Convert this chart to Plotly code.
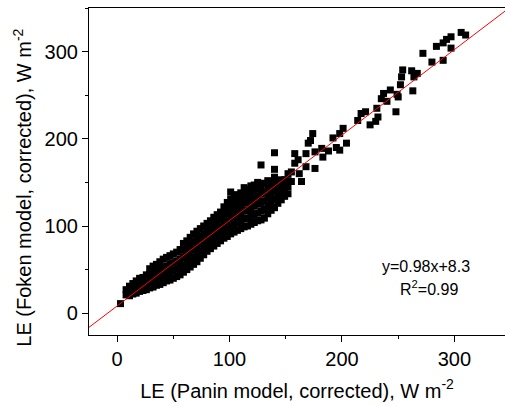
import plotly.graph_objects as go

# LE values (W m-2)
dense_x = [
    3,
    8, 8,
    11, 11, 11,
    14, 14, 14,
    17, 17, 17,
    20, 20, 20,
    23, 23, 23,
    26, 26, 26,
    29, 29, 29, 29,
    32, 32, 32, 32,
    35, 35, 35, 35,
    38, 38, 38, 38,
    41, 41, 41, 41,
    44, 44, 44, 44,
    47, 47, 47, 47,
    50, 50, 50, 50,
    53, 53, 53, 53,
    56, 56, 56, 56,
    59, 59, 59, 59, 59,
    62, 62, 62, 62, 62,
    65, 65, 65, 65, 65,
    68, 68, 68, 68, 68,
    71, 71, 71, 71, 71,
    74, 74, 74, 74, 74,
    77, 77, 77, 77, 77,
    80, 80, 80, 80, 80,
    83, 83, 83, 83, 83,
    86, 86, 86, 86, 86,
    89, 89, 89, 89, 89,
    92, 92, 92, 92, 92,
    95, 95, 95, 95, 95,
    98, 98, 98, 98, 98, 98,
    101, 101, 101, 101, 101, 101, 101,
    104, 104, 104, 104, 104, 104,
    107, 107, 107, 107, 107, 107,
    110, 110, 110, 110, 110, 110,
    113, 113, 113, 113, 113, 113,
    116, 116, 116, 116, 116, 116,
    119, 119, 119, 119, 119, 119,
    122, 122, 122, 122, 122, 122,
    125, 125, 125, 125, 125, 125,
    128, 128, 128, 128, 128, 128,
    131, 131, 131, 131, 131,
    134, 134, 134, 134, 134,
    137, 137, 137, 137, 137,
    140, 140, 140, 140, 140, 140, 140,
    143, 143, 143, 143,
    146, 146, 146, 146,
    149, 149, 149, 149,
    152, 152, 152, 152,
]
dense_y = [
    11,
    21, 27,
    20, 26, 31,
    22, 28, 34,
    23, 30, 37,
    25, 32, 40,
    26, 33, 41,
    27, 35, 44,
    29, 37, 45, 51,
    30, 38, 47, 54,
    32, 40, 48, 56,
    33, 42, 50, 59,
    35, 44, 52, 62,
    37, 45, 54, 64,
    38, 47, 56, 66,
    40, 49, 58, 68,
    42, 51, 60, 70,
    44, 53, 62, 73,
    47, 55, 64, 72, 80,
    50, 58, 67, 75, 83,
    53, 61, 70, 78, 87,
    56, 64, 73, 82, 91,
    59, 68, 76, 85, 94,
    63, 71, 80, 88, 97,
    67, 75, 83, 91, 100,
    71, 79, 87, 95, 103,
    74, 82, 90, 98, 106,
    77, 85, 93, 101, 110,
    80, 88, 96, 104, 113,
    83, 91, 99, 108, 116,
    86, 94, 103, 112, 122,
    88, 96, 105, 114, 120, 127,
    91, 99, 108, 116, 124, 131, 139,
    93, 101, 110, 118, 126, 133,
    95, 104, 112, 120, 128, 136,
    97, 106, 114, 122, 130, 138,
    99, 108, 117, 126, 135, 144,
    100, 109, 118, 127, 135, 142,
    102, 111, 120, 129, 138, 146,
    104, 113, 123, 132, 141, 147,
    106, 115, 125, 134, 143, 150,
    107, 117, 127, 137, 146, 170,
    109, 119, 129, 139, 149,
    114, 123, 133, 143, 152,
    118, 127, 136, 145, 151,
    121, 131, 140, 148, 156, 165, 184,
    126, 135, 143, 150,
    130, 138, 146, 153,
    134, 141, 148, 153,
    137, 145, 152, 160,
]
sparse_x = [155, 155, 158, 158, 161, 162, 164, 168, 168, 170, 172, 174, 176, 176,
            182, 183, 188, 192, 195, 198, 198, 201, 204, 214, 217, 221, 225, 230,
            231, 232, 235, 237, 240, 243, 248, 249, 250, 252, 253, 254, 262, 263,
            264, 267, 272, 280, 284, 290, 290, 293, 297, 297, 306, 310]
sparse_y = [162, 151, 172, 183, 176, 160, 151, 168, 183, 195, 198, 206, 185, 166,
            189, 179, 186, 201, 190, 187, 206, 212, 195, 221, 229, 231, 216, 220,
            235, 225, 246, 252, 243, 256, 231, 251, 248, 262, 271, 279, 278, 255,
            271, 275, 298, 288, 306, 290, 310, 314, 317, 304, 322, 319]

fit_slope = 0.98
fit_intercept = 8.3
fit_x = [-25, 345]
fit_label = "y=0.98x+8.3"
r2_label = "R<sup>2</sup>=0.99"
x_title = "LE (Panin model, corrected), W m<sup>-2</sup>"
y_title = "LE (Foken model, corrected), W m<sup>-2</sup>"

x_all = dense_x + sparse_x
y_all = dense_y + sparse_y

FONT = "Liberation Sans, Arial, sans-serif"

fig = go.Figure()
fig.add_trace(go.Scatter(
    x=x_all, y=y_all, mode="markers",
    marker=dict(symbol="square", size=7, color="black", line=dict(width=0)),
    showlegend=False, hoverinfo="skip",
))
fig.add_trace(go.Scatter(
    x=fit_x, y=[fit_slope * v + fit_intercept for v in fit_x], mode="lines",
    line=dict(color="red", width=1), showlegend=False, hoverinfo="skip",
))

fig.add_annotation(x=275, y=53, xref="x", yref="y", text=fit_label, showarrow=False,
                   font=dict(family=FONT, size=16, color="black"))
fig.add_annotation(x=277, y=29, xref="x", yref="y", text=r2_label, showarrow=False,
                   font=dict(family=FONT, size=16, color="black"))
fig.add_annotation(x=-0.159, y=0.45, xref="paper", yref="paper", text=y_title,
                   showarrow=False, textangle=-90, xanchor="center", yanchor="middle",
                   font=dict(family=FONT, size=20, color="black"))

axis_common = dict(
    showgrid=False, zeroline=False, showline=True, linecolor="black", linewidth=1.2,
    ticks="outside", ticklen=6, tickwidth=1.2, tickcolor="black",
    tickfont=dict(family=FONT, size=20, color="black"),
    minor=dict(ticks="outside", ticklen=3, tickwidth=1.2, tickcolor="black", dtick=50),
)

fig.update_xaxes(range=[-25, 345], tickvals=[0, 100, 200, 300], mirror=True,
                 title=dict(text=x_title,
                            font=dict(family=FONT, size=20, color="black"), standoff=14),
                 **axis_common)
fig.update_yaxes(range=[-25, 350], tickvals=[0, 100, 200, 300], mirror=False,
                 **axis_common)

fig.update_layout(
    width=505, height=406,
    margin=dict(l=89, r=0, t=8, b=71, autoexpand=False),
    plot_bgcolor="white", paper_bgcolor="white",
)

# remove the default page margin / scrollbars so the figure fills the window
fig.write_html(
    "out.html",
    config={"displayModeBar": False},
    post_script="document.body.style.margin='0';"
                "document.body.style.overflow='hidden';"
                "document.documentElement.style.overflow='hidden';",
)
